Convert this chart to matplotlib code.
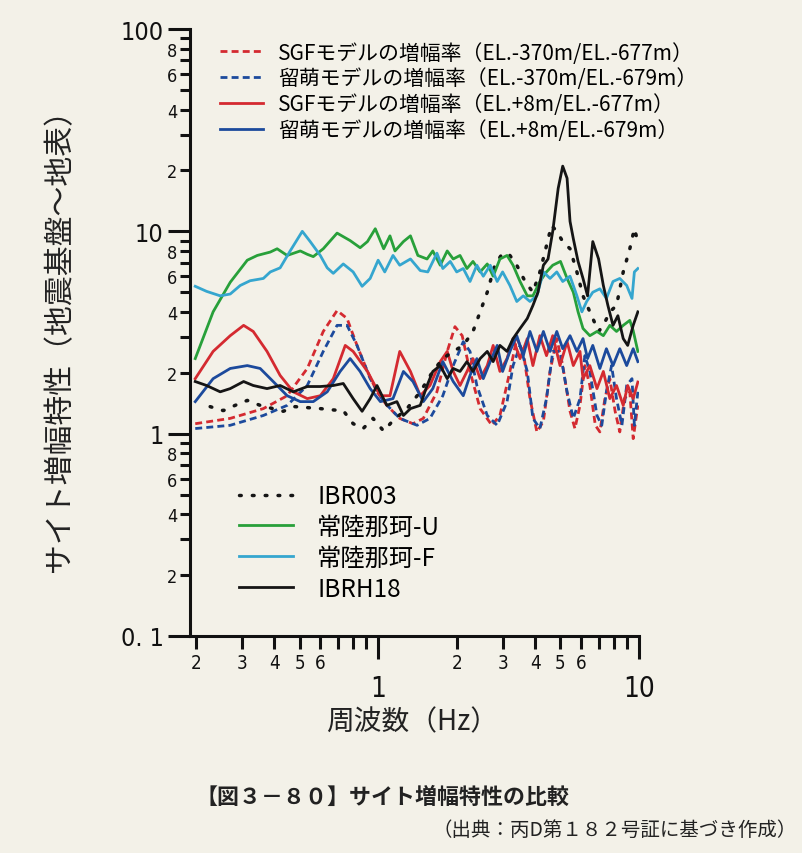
import numpy as np
import matplotlib.pyplot as plt

plt.rcParams['font.family'] = ['Noto Sans CJK JP', 'DejaVu Sans']
NUM_FONT = ['Liberation Sans Narrow', 'DejaVu Sans']

# ---- data (frequency Hz, amplification) ----
# SGF model, EL.-370m / EL.-677m (red dashed)
f_sgf_d = [0.199, 0.271, 0.363, 0.448, 0.535, 0.616, 0.696, 0.76, 0.83, 0.91, 0.99, 1.08, 1.21, 1.36,
           1.49, 1.68, 1.84, 1.97, 2.10, 2.25, 2.46, 2.73, 2.93, 3.2, 3.4, 3.6, 3.82, 4.06, 4.3, 4.56,
           4.84, 5.1, 5.44, 5.68, 5.94, 6.2, 6.48, 6.8, 7.08, 7.4, 7.73, 8.1, 8.44, 8.8, 9.22, 9.5, 9.9]
a_sgf_d = [1.12, 1.19, 1.33, 1.54, 2.10, 3.2, 4.06, 3.71, 2.73, 2.03, 1.61, 1.38, 1.19, 1.12,
           1.19, 1.61, 2.55, 3.38, 3.05, 2.03, 1.33, 1.10, 1.23, 2.03, 2.95, 2.55, 1.49, 1.02, 1.15, 2.03,
           2.95, 2.17, 1.29, 1.06, 1.38, 2.17, 1.73, 1.10, 1.02, 1.49, 1.87, 1.29, 1.02, 1.49, 1.61, 0.945, 1.38]

# Rumoi model, EL.-370m / EL.-679m (blue dashed)
f_rum_d = [0.199, 0.271, 0.363, 0.448, 0.535, 0.616, 0.696, 0.76, 0.83, 0.932, 1.05, 1.21, 1.41, 1.58,
           1.77, 1.94, 2.12, 2.25, 2.39, 2.62, 2.86, 3.12, 3.29, 3.5, 3.73, 3.92, 4.17, 4.42, 4.67, 4.98,
           5.3, 5.6, 5.94, 6.2, 6.48, 6.9, 7.2, 7.5, 7.85, 8.2, 8.6, 8.97, 9.4, 9.6, 9.9]
a_rum_d = [1.06, 1.10, 1.23, 1.38, 1.73, 2.55, 3.43, 3.43, 2.73, 1.87, 1.44, 1.19, 1.10, 1.19,
           1.54, 2.17, 2.85, 2.55, 1.73, 1.23, 1.10, 1.44, 2.17, 2.73, 2.03, 1.19, 1.06, 1.49, 2.55, 2.55,
           1.61, 1.19, 1.49, 2.43, 2.03, 1.23, 1.10, 1.61, 2.17, 1.49, 1.10, 1.73, 1.87, 1.10, 1.61]

# SGF model, EL.+8m / EL.-677m (red solid)
f_sgf = [0.199, 0.233, 0.271, 0.305, 0.332, 0.375, 0.421, 0.473, 0.535, 0.6, 0.673, 0.748, 0.802, 0.91,
         1.02, 1.11, 1.21, 1.33, 1.45, 1.58, 1.73, 1.84, 1.94, 2.06, 2.19, 2.31, 2.46, 2.62, 2.76, 2.93,
         3.12, 3.29, 3.5, 3.73, 3.92, 4.17, 4.42, 4.67, 4.98, 5.3, 5.6, 5.94, 6.1, 6.48, 6.9, 7.3,
         7.73, 8.2, 8.7, 9.05, 9.5, 9.9]
a_sgf = [1.87, 2.55, 3.05, 3.43, 3.2, 2.55, 1.94, 1.61, 1.49, 1.54, 1.87, 2.73, 2.55, 2.03,
         1.54, 1.54, 2.55, 2.03, 1.54, 1.73, 2.27, 2.55, 2.03, 1.73, 2.03, 2.35, 1.87, 2.17, 2.73, 2.03,
         2.35, 2.95, 2.35, 2.95, 2.17, 3.05, 2.43, 3.05, 2.17, 2.85, 2.17, 2.55, 1.87, 2.17, 1.67, 2.03,
         1.49, 1.73, 1.38, 1.73, 1.49, 1.8]

# Rumoi model, EL.+8m / EL.-679m (blue solid)
f_rum = [0.199, 0.233, 0.271, 0.315, 0.353, 0.396, 0.448, 0.503, 0.564, 0.638, 0.715, 0.781, 0.853, 0.932,
         1.02, 1.14, 1.25, 1.36, 1.49, 1.62, 1.77, 1.94, 2.12, 2.25, 2.39, 2.53, 2.69, 2.86, 3.0, 3.2,
         3.4, 3.6, 3.82, 4.06, 4.3, 4.56, 4.84, 5.1, 5.44, 5.78, 6.1, 6.35, 6.65, 7.08, 7.5, 7.95,
         8.44, 8.97, 9.5, 9.9]
a_rum = [1.44, 1.87, 2.10, 2.17, 2.10, 1.81, 1.54, 1.44, 1.44, 1.61, 2.03, 2.35, 2.03, 1.67,
         1.44, 1.49, 2.03, 1.81, 1.44, 1.67, 2.27, 1.81, 1.54, 1.94, 2.35, 1.87, 2.27, 2.73, 2.03, 2.55,
         3.05, 2.43, 3.2, 2.55, 3.2, 2.55, 3.2, 2.63, 3.05, 2.55, 2.95, 2.35, 2.73, 2.10, 2.63, 2.17,
         2.63, 2.17, 2.63, 2.27]

# IBR003 (black dotted)
f_ibr003 = [0.227, 0.255, 0.283, 0.315, 0.353, 0.433, 0.48, 0.6, 0.673, 0.735, 0.802, 0.876, 0.956, 1.05,
            1.14, 1.29, 1.45, 1.62, 1.77, 1.94, 2.12, 2.31, 2.46, 2.62, 2.8, 3.0, 3.2, 3.4, 3.66, 3.92,
            4.17, 4.42, 4.62, 4.84, 5.1, 5.44, 5.78, 6.1, 6.48, 7.0, 7.3, 7.73, 8.2, 8.7, 9.22, 9.6, 9.9]
a_ibr003 = [1.36, 1.30, 1.38, 1.46, 1.38, 1.29, 1.36, 1.33, 1.31, 1.30, 1.12, 1.06, 1.19, 1.03,
            1.16, 1.33, 1.61, 2.03, 2.35, 2.55, 2.73, 3.2, 4.0, 5.0, 6.8, 7.8, 7.6, 6.8, 5.65, 5.0,
            6.3, 8.5, 10.7, 10.0, 8.9, 8.2, 6.3, 4.8, 4.0, 3.2, 3.43, 4.0, 4.3, 6.3, 8.2, 10.3, 8.9]

# Hitachinaka-U (green)
f_hu = [0.199, 0.233, 0.271, 0.315, 0.344, 0.386, 0.41, 0.448, 0.503, 0.535, 0.564, 0.616, 0.696, 0.781,
        0.853, 0.91, 0.975, 1.05, 1.11, 1.16, 1.25, 1.33, 1.42, 1.54, 1.62, 1.73, 1.84, 1.94,
        2.06, 2.19, 2.31, 2.46, 2.62, 2.76, 2.93, 3.12, 3.29, 3.50, 3.73, 3.92, 4.17, 4.42, 4.67, 5.0,
        5.3, 5.6, 5.84, 6.1, 6.48, 6.9, 7.3, 7.73, 8.2, 8.7, 9.22, 9.5, 9.9]
a_hu = [2.35, 4.0, 5.6, 7.2, 7.6, 7.9, 8.2, 7.6, 8.0, 7.7, 7.5, 8.2, 9.8, 9.0,
        8.3, 8.9, 10.3, 8.2, 9.5, 8.0, 8.9, 9.5, 7.6, 7.3, 8.0, 6.8, 8.0, 7.3,
        7.6, 6.55, 7.1, 6.3, 6.9, 6.0, 7.3, 7.6, 6.8, 5.65, 4.8, 4.8, 5.65, 6.3, 6.8, 7.1,
        5.85, 5.0, 4.0, 3.31, 3.05, 3.2, 3.05, 3.43, 3.2, 3.43, 3.63, 3.23, 2.55]

# Hitachinaka-F (light blue)
f_hf = [0.199, 0.22, 0.248, 0.271, 0.296, 0.323, 0.363, 0.386, 0.421, 0.46, 0.512, 0.549, 0.6, 0.638,
        0.673, 0.735, 0.802, 0.868, 0.932, 1.0, 1.06, 1.14, 1.21, 1.33, 1.45, 1.55, 1.68, 1.77, 1.89,
        2.0, 2.12, 2.25, 2.39, 2.53, 2.69, 2.86, 3.0, 3.2, 3.4, 3.6, 3.82, 4.06, 4.3, 4.56, 4.84,
        5.1, 5.44, 5.78, 6.04, 6.3, 6.65, 7.08, 7.5, 7.95, 8.44, 8.97, 9.4, 9.6, 9.9]
a_hf = [5.35, 5.05, 4.8, 4.9, 5.4, 5.7, 5.85, 6.3, 6.6, 8.0, 10.0, 8.9, 7.6, 6.6,
        6.2, 6.9, 6.3, 5.35, 5.85, 7.2, 6.3, 7.6, 6.8, 7.3, 6.4, 6.3, 7.8, 6.55, 7.1,
        6.3, 6.55, 5.65, 6.8, 6.0, 6.8, 5.65, 6.3, 5.4, 4.5, 4.8, 4.5, 4.8, 6.3, 5.85, 6.3,
        5.65, 6.0, 4.8, 4.0, 4.5, 5.0, 5.2, 4.66, 5.65, 5.85, 5.4, 4.66, 6.3, 6.55]

# IBRH18 (black solid)
f_ibrh18 = [0.199, 0.22, 0.248, 0.271, 0.305, 0.332, 0.375, 0.421, 0.473, 0.535, 0.6, 0.673, 0.735, 0.802,
            0.868, 0.932, 0.99, 1.08, 1.18, 1.25, 1.33, 1.45, 1.54, 1.62, 1.73, 1.84, 1.94, 2.06, 2.19, 2.31,
            2.46, 2.62, 2.76, 2.93, 3.12, 3.29, 3.5, 3.73, 3.92, 4.1, 4.3, 4.48, 4.67, 4.9, 5.1, 5.3,
            5.44, 5.6, 5.84, 6.1, 6.35, 6.65, 7.0, 7.3, 7.6, 7.95, 8.3, 8.7, 9.05, 9.5, 9.9]
a_ibrh18 = [1.81, 1.73, 1.61, 1.67, 1.81, 1.73, 1.67, 1.73, 1.61, 1.71, 1.71, 1.73, 1.77, 1.49,
            1.29, 1.49, 1.73, 1.38, 1.44, 1.23, 1.33, 1.38, 1.73, 2.03, 2.17, 1.87, 2.10, 2.03, 2.27, 2.03,
            2.35, 2.55, 2.27, 2.73, 2.55, 2.95, 3.31, 3.71, 4.3, 5.0, 6.8, 7.3, 10.0, 16.3, 21.0, 18.3,
            11.2, 9.2, 7.1, 5.85, 4.8, 8.9, 7.3, 5.4, 4.3, 3.43, 3.83, 2.95, 2.73, 3.43, 4.0]

labels_top = ['SGFモデルの増幅率（EL.-370m/EL.-677m）',
              '留萌モデルの増幅率（EL.-370m/EL.-679m）',
              'SGFモデルの増幅率（EL.+8m/EL.-677m）',
              '留萌モデルの増幅率（EL.+8m/EL.-679m）']
labels_obs = ['IBR003', '常陸那珂-U', '常陸那珂-F', 'IBRH18']

bg = '#f3f1e8'
red = '#d42a30'
blue = '#1c4a9c'
green = '#28a03a'
cyan = '#35a6cf'
black = '#151515'

fig = plt.figure(figsize=(8.03, 8.54), dpi=100, facecolor=bg)
ax = fig.add_axes([190/803, 1-637/854, 449/803, 607/854], facecolor=bg)

lw = 2.0
h1, = ax.plot(f_sgf_d, a_sgf_d, color=red, lw=lw, dashes=(2.5, 1.5))
h2, = ax.plot(f_rum_d, a_rum_d, color=blue, lw=lw, dashes=(2.5, 1.5))
h3, = ax.plot(f_sgf, a_sgf, color=red, lw=lw)
h4, = ax.plot(f_rum, a_rum, color=blue, lw=lw)
h5, = ax.plot(f_ibr003, a_ibr003, color=black, lw=2.5, linestyle=(0, (0.5, 3.2)),
              dash_capstyle='round')
h6, = ax.plot(f_hu, a_hu, color=green, lw=lw)
h7, = ax.plot(f_hf, a_hf, color=cyan, lw=lw)
h8, = ax.plot(f_ibrh18, a_ibrh18, color=black, lw=lw)

ax.set_xscale('log')
ax.set_yscale('log')
ax.set_xlim(0.19, 10)
ax.set_ylim(0.1, 100)

for s in ['top', 'right']:
    ax.spines[s].set_visible(False)
for s in ['left', 'bottom']:
    ax.spines[s].set_linewidth(2.2)
    ax.spines[s].set_color('#111111')

num = dict(fontfamily=NUM_FONT, fontstretch='condensed', color='#222222')

# x ticks
ax.set_xticks([1, 10], labels=['1', '10'], fontsize=20, **num)
xminor = [0.2, 0.3, 0.4, 0.5, 0.6, 0.7, 0.8, 0.9, 2, 3, 4, 5, 6, 7, 8, 9]
xminor_lab = ['2', '3', '4', '5', '6', '', '', '', '2', '3', '4', '5', '6', '', '', '']
ax.set_xticks(xminor, labels=xminor_lab, minor=True, fontsize=13.5, **num)
ax.tick_params(axis='x', which='major', direction='out', length=16.5, width=2.2, pad=11, colors='#111111')
ax.tick_params(axis='x', which='minor', direction='out', length=9, width=2.2, pad=3, colors='#111111')

# y ticks
ax.set_yticks([0.1, 1, 10, 100], labels=['0. 1', '1', '10', '100'], fontsize=18, **num)
yminor = [m * d for d in [0.1, 1, 10] for m in range(2, 10)]
yminor_lab = [str(m) if m % 2 == 0 else '' for d in [0.1, 1, 10] for m in range(2, 10)]
ax.set_yticks(yminor, labels=yminor_lab, minor=True, fontsize=13, **num)
ax.tick_params(axis='y', which='major', direction='out', length=16, width=2.2, pad=3, colors='#111111')
ax.tick_params(axis='y', which='minor', direction='out', length=7, width=2.2, pad=2, colors='#111111')

leg1 = ax.legend([h1, h2, h3, h4], labels_top, loc='upper left', bbox_to_anchor=(0.066, 0.979),
                 frameon=False, fontsize=15, handlelength=2.1, handletextpad=0.7,
                 labelspacing=0.18, borderaxespad=0, borderpad=0)
ax.add_artist(leg1)
ax.legend([h5, h6, h7, h8], labels_obs, loc='upper left', bbox_to_anchor=(0.11, 0.252),
          frameon=False, fontsize=17.5, handlelength=2.2, handletextpad=1.0,
          labelspacing=0.2, borderaxespad=0, borderpad=0)

fig.text(60/803, 1-333/854, 'サイト増幅特性（地震基盤～地表）', rotation=90, fontsize=21.5,
         ha='center', va='center', color='#222222')
fig.text(412/803, 1-722/854, '周波数（Hz）', fontsize=20, ha='center', va='center', color='#222222')
fig.text(196/803, 1-797/854, '【図３－８０】サイト増幅特性の比較', fontsize=15.8, fontweight='bold',
         ha='left', va='center', color='#222222')
fig.text(797/803, 1-830/854, '（出典：丙D第１８２号証に基づき作成）', fontsize=14,
         ha='right', va='center', color='#222222')

fig.savefig('out.png', dpi=100, facecolor=bg)
